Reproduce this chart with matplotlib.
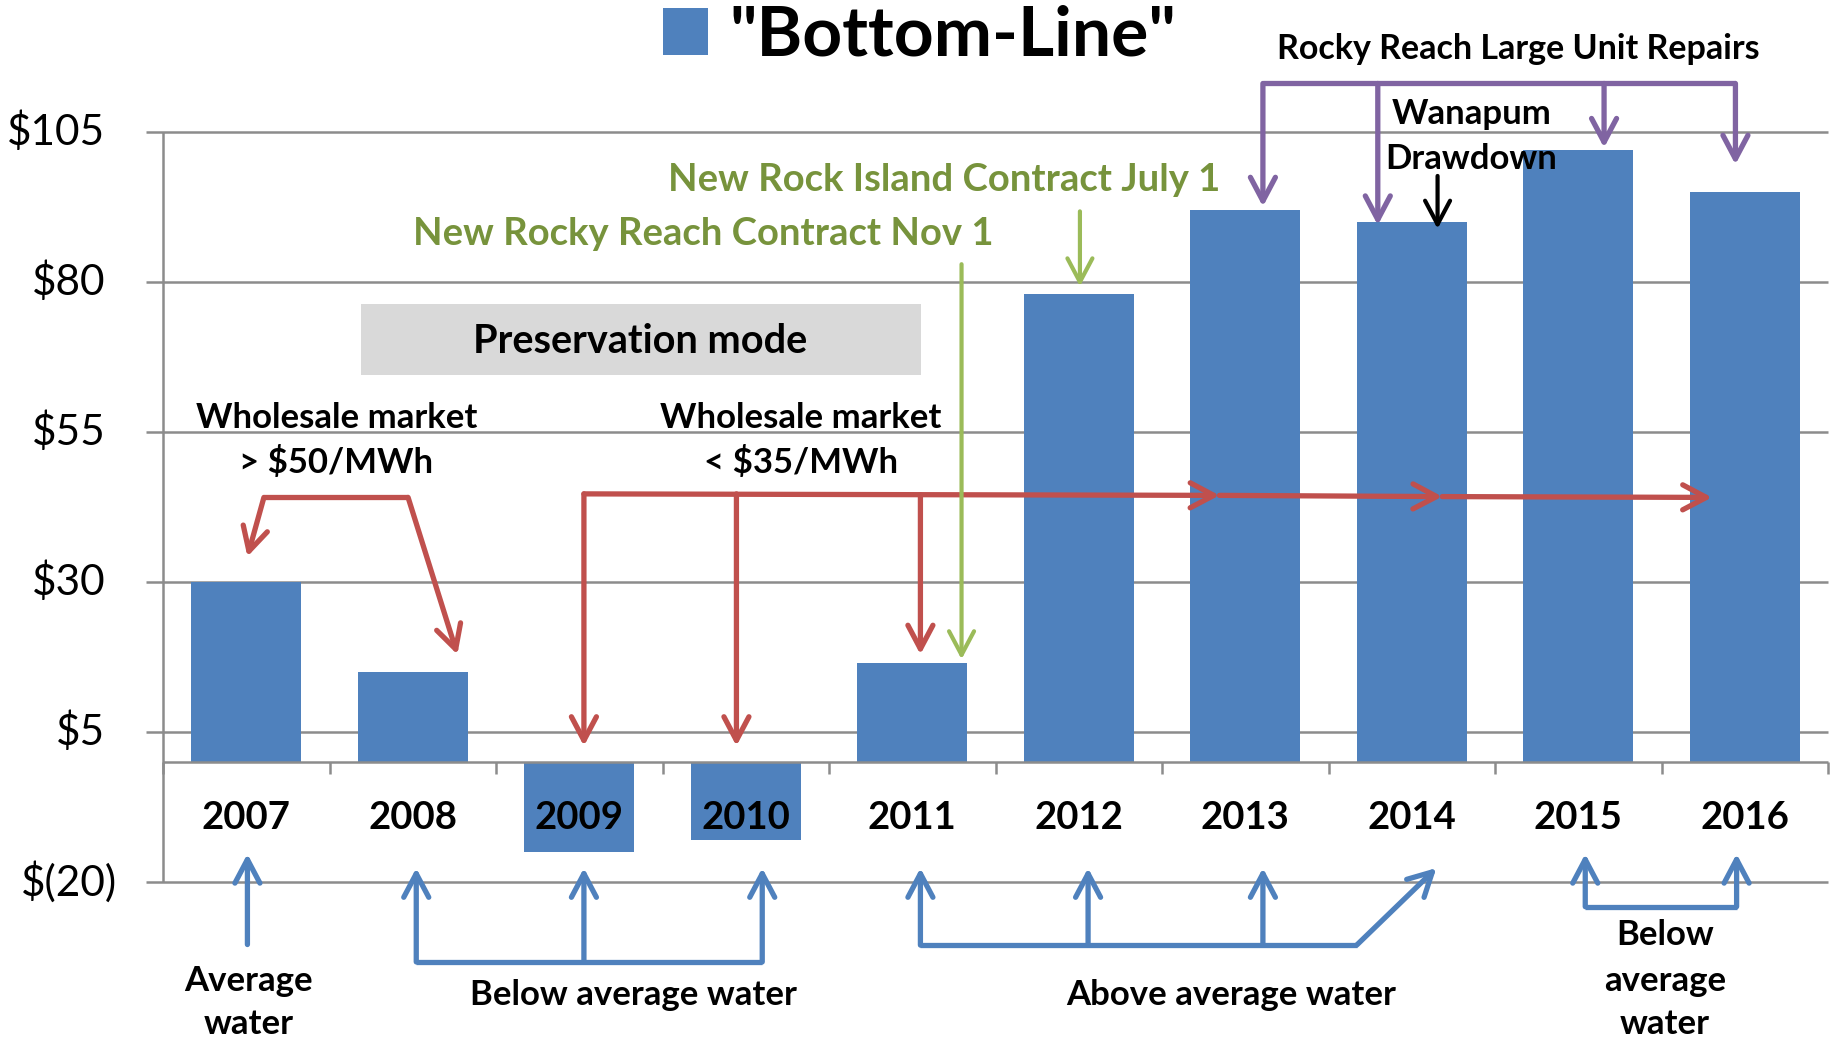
import numpy as np
import matplotlib.pyplot as plt
from matplotlib.patches import Rectangle

# === Data ===
years = ['2007', '2008', '2009', '2010', '2011', '2012', '2013', '2014', '2015', '2016']
bottom_line = [30, 15, -15, -13, 16.5, 78, 92, 90, 102, 95]
y_ticks = [105, 80, 55, 30, 5, -20]
y_tick_labels = ['$105', '$80', '$55', '$30', '$5', '$(20)']

BLUE = '#4F81BD'
RED = '#C0504D'
GREEN_TXT = '#77933C'
GREEN = '#9BBB59'
PURPLE = '#8064A2'
GRID = '#8C8C8C'

plt.rcParams['font.family'] = ['Lato', 'DejaVu Sans']
plt.rcParams['text.parse_math'] = False

fig = plt.figure(figsize=(18.39, 10.40), dpi=100)
ax = fig.add_axes([0, 0, 1, 1])
ax.set_xlim(-1.479, 9.566)
ax.set_ylim(-46.3, 126.9)
ax.axis('off')

x = np.arange(len(years))

# === Axes, grid, bars ===
ax.hlines(y_ticks, -0.6, 9.5, color=GRID, lw=1.8, zorder=1)
ax.vlines(-0.5, -20, 105, color=GRID, lw=1.8, zorder=1)
bars = ax.bar(x, bottom_line, width=0.66, color=BLUE, zorder=2, label='"Bottom-Line"')
ax.hlines(0, -0.5, 9.5, color=GRID, lw=1.8, zorder=3)
ax.vlines(np.arange(-0.5, len(years)), -2, 0, color=GRID, lw=1.8, zorder=3)

for v, lab in zip(y_ticks, y_tick_labels):
    xpos = -0.775 if '(' in lab else -0.845
    ax.text(xpos, v, lab, ha='right', va='center', fontsize=30.5)

for xi, yr in zip(x, years):
    ax.text(xi, -9.26, yr, ha='center', va='center', fontsize=27.5, fontweight='bold', zorder=6)

fig.legend(handles=[bars], loc='center', bbox_to_anchor=(0.5, 0.965), frameon=False,
           prop={'family': 'Lato', 'weight': 'bold', 'size': 50},
           handlelength=0.65, handleheight=0.65, handletextpad=0.3)


# === Annotation helpers ===
def arrow(tail, head, color, lw=3.8):
    ax.annotate('', xy=head, xytext=tail, annotation_clip=False,
                arrowprops=dict(arrowstyle='->,head_length=0.85,head_width=0.45', color=color,
                                lw=lw, shrinkA=0, shrinkB=0, mutation_scale=20))


def line(xs, ys, color, lw=3.8):
    ax.plot(xs, ys, color=color, lw=lw, solid_capstyle='butt', solid_joinstyle='miter', zorder=5)


def label(xp, yp, s, size=25, color='black'):
    ax.text(xp, yp, s, ha='center', va='center', fontsize=size, fontweight='bold', color=color, zorder=6)


# top labels
label(7.641, 118.7, 'Rocky Reach Large Unit Repairs', size=24.5)
label(7.359, 107.9, 'Wanapum')
label(7.359, 100.5, 'Drawdown')
label(4.19, 97.0, 'New Rock Island Contract July 1', size=27.5, color=GREEN_TXT)
label(2.746, 88.0, 'New Rocky Reach Contract Nov 1', size=27.5, color=GREEN_TXT)

# preservation mode box
ax.add_patch(Rectangle((0.69, 64.4), 4.05 - 0.69, 76.3 - 64.4, facecolor='#D9D9D9', edgecolor='none', zorder=2))
label(2.366, 70.0, 'Preservation mode', size=28.5)

label(0.542, 57.3, 'Wholesale market')
label(0.542, 49.9, '> $50/MWh')
label(3.331, 57.3, 'Wholesale market')
label(3.331, 49.9, '< $35/MWh')

# bottom labels
label(0.014, -36.4, 'Average')
label(0.014, -43.6, 'water')
label(2.324, -38.75, 'Below average water')
label(5.915, -38.75, 'Above average water')
label(8.52, -28.8, 'Below')
label(8.52, -36.4, 'average')
label(8.52, -43.6, 'water')

# === Arrows ===
# wholesale market > $50
line([0.106, 0.972], [44.06, 44.06], RED)
arrow((0.106, 44.06), (0.007, 34.2), RED)
arrow((0.972, 44.06), (1.268, 17.9), RED)
# wholesale market < $35
arrow((2.028, 44.65), (5.845, 44.4), RED)
arrow((5.845, 44.4), (7.183, 44.2), RED)
arrow((7.183, 44.2), (8.803, 44.06), RED)
arrow((2.028, 44.65), (2.028, 2.66), RED)
arrow((2.944, 44.65), (2.944, 2.66), RED)
arrow((4.049, 44.5), (4.049, 17.9), RED)

# contracts
arrow((4.296, 82.9), (4.296, 17.1), GREEN, lw=3.0)
arrow((5.007, 91.7), (5.007, 79.2), GREEN, lw=3.0)

# large unit repairs
line([6.106, 8.944], [113.0, 113.0], PURPLE)
arrow((6.106, 113.0), (6.106, 92.5), PURPLE)
arrow((6.796, 113.0), (6.796, 89.4), PURPLE)
arrow((8.155, 113.0), (8.155, 102.3), PURPLE)
arrow((8.944, 113.0), (8.944, 99.5), PURPLE)
arrow((7.155, 97.6), (7.155, 88.8), 'black', lw=3.0)

# water conditions
arrow((0.007, -30.4), (0.007, -15.3), BLUE)
line([1.021, 3.099], [-33.3, -33.3], BLUE)
for xi in [1.021, 2.028, 3.099]:
    arrow((xi, -33.3), (xi, -17.66), BLUE)
line([4.049, 6.669], [-30.5, -30.5], BLUE)
for xi in [4.049, 5.056, 6.106]:
    arrow((xi, -30.5), (xi, -17.66), BLUE)
arrow((6.669, -30.5), (7.148, -17.66), BLUE)
line([8.042, 8.951], [-24.1, -24.1], BLUE)
for xi in [8.042, 8.951]:
    arrow((xi, -24.1), (xi, -15.3), BLUE)

fig.savefig('out.png', dpi=100)
